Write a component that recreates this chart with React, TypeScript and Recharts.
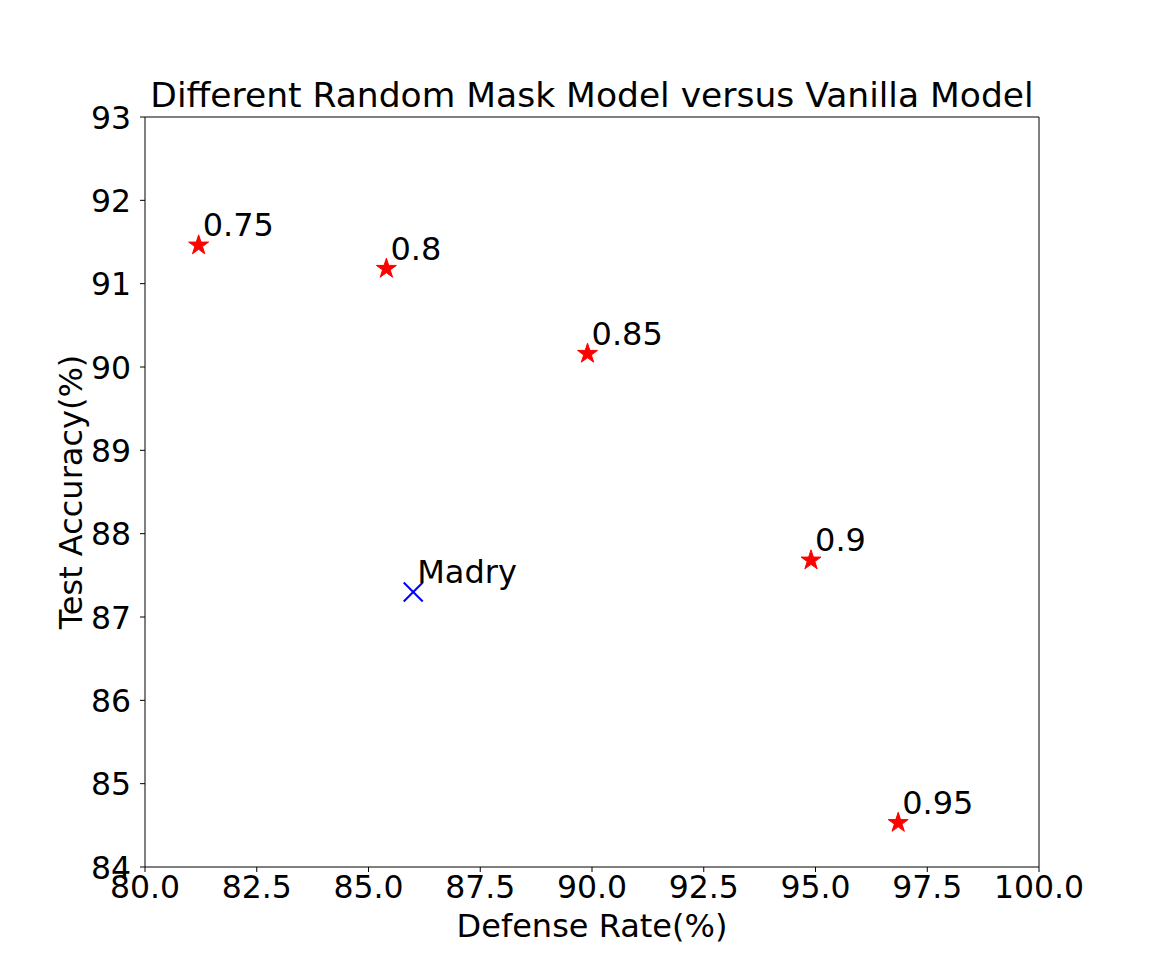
import { ScatterChart, Scatter, XAxis, YAxis, ZAxis, ReferenceLine, LabelList } from "recharts";

// mask ratio models and the Madry baseline
const maskLabels = ["0.75", "0.8", "0.85", "0.9", "0.95"];
const maskDefense = [81.2, 85.4, 89.9, 94.9, 96.85];
const maskAccuracy = [91.46, 91.18, 90.16, 87.68, 84.53];

const madryDefense = [86.0];
const madryAccuracy = [87.3];

const xTicks = [80, 82.5, 85, 87.5, 90, 92.5, 95, 97.5, 100];
const yTicks = [84, 85, 86, 87, 88, 89, 90, 91, 92, 93];

const maskData = maskLabels.map((name, i) => ({ name, x: maskDefense[i], y: maskAccuracy[i] }));
const madryData = madryDefense.map((x, i) => ({ name: "Madry", x, y: madryAccuracy[i] }));

const FONT = "'DejaVu Sans', sans-serif";
const FS = 32;

const Star = (props: any) => {
  const { cx, cy } = props;
  const R = 10.5;
  const r = R * 0.382;
  const pts: string[] = [];
  for (let i = 0; i < 10; i++) {
    const rad = i % 2 === 0 ? R : r;
    const a = -Math.PI / 2 + (i * Math.PI) / 5;
    pts.push(`${cx + rad * Math.cos(a)},${cy + rad * Math.sin(a)}`);
  }
  return <polygon points={pts.join(" ")} fill="#ff0000" stroke="#ff0000" strokeWidth={1} />;
};

const Cross = (props: any) => {
  const { cx, cy } = props;
  const h = 9.5;
  return (
    <g stroke="#0000ff" strokeWidth={2}>
      <line x1={cx - h} y1={cy - h} x2={cx + h} y2={cy + h} />
      <line x1={cx - h} y1={cy + h} x2={cx + h} y2={cy - h} />
    </g>
  );
};

const PointLabel = (props: any) => {
  const { x, y, width, height, value } = props;
  const cx = x + (width || 0) / 2;
  const cy = y + (height || 0) / 2;
  return (
    <text x={cx + 4} y={cy - 9} fontSize={FS} fontFamily={FONT} fill="#000">
      {value}
    </text>
  );
};

const XTick = (props: any) => {
  const { x, y, payload } = props;
  return (
    <text x={x} y={y} dy={26} textAnchor="middle" fontSize={31.5} fontFamily={FONT} fill="#000">
      {Number(payload.value).toFixed(1)}
    </text>
  );
};

const YTick = (props: any) => {
  const { x, y, payload } = props;
  return (
    <text x={x - 9} y={y} dy={11.5} textAnchor="end" fontSize={31.5} fontFamily={FONT} fill="#000">
      {payload.value}
    </text>
  );
};

export default function App() {
  return (
    <div style={{ position: "absolute", left: 0, top: 0, width: 1154, height: 974, background: "#fff" }}>
      <ScatterChart width={1154} height={974} margin={{ top: 117, right: 115, bottom: 0, left: 0 }}>
        <text x={592} y={107} textAnchor="middle" fontSize={34.5} fontFamily={FONT} fill="#000">
          Different Random Mask Model versus Vanilla Model
        </text>
        <XAxis
          type="number"
          dataKey="x"
          domain={[80, 100]}
          ticks={xTicks}
          interval={0}
          height={107}
          tickSize={5}
          tickMargin={0}
          stroke="#000"
          tick={<XTick />}
          allowDataOverflow
          label={({ viewBox }: any) => (
            <text x={viewBox.x + viewBox.width / 2} y={937} textAnchor="middle" fontSize={FS} fontFamily={FONT} fill="#000">
              Defense Rate(%)
            </text>
          )}
        />
        <YAxis
          type="number"
          dataKey="y"
          domain={[84, 93]}
          ticks={yTicks}
          interval={0}
          width={145}
          tickSize={5}
          tickMargin={0}
          stroke="#000"
          tick={<YTick />}
          allowDataOverflow
          label={({ viewBox }: any) => {
            const cy = viewBox.y + viewBox.height / 2;
            return (
              <text x={82} y={cy} transform={`rotate(-90 82 ${cy})`} textAnchor="middle" fontSize={FS} fontFamily={FONT} fill="#000">
                Test Accuracy(%)
              </text>
            );
          }}
        />
        <ZAxis range={[300, 300]} />
        <ReferenceLine y={93} stroke="#000" strokeWidth={1} ifOverflow="visible" />
        <ReferenceLine x={100} stroke="#000" strokeWidth={1} ifOverflow="visible" />
        <Scatter data={maskData} shape={<Star />} isAnimationActive={false}>
          <LabelList dataKey="name" content={<PointLabel />} />
        </Scatter>
        <Scatter data={madryData} shape={<Cross />} isAnimationActive={false}>
          <LabelList dataKey="name" content={<PointLabel />} />
        </Scatter>
      </ScatterChart>
    </div>
  );
}
